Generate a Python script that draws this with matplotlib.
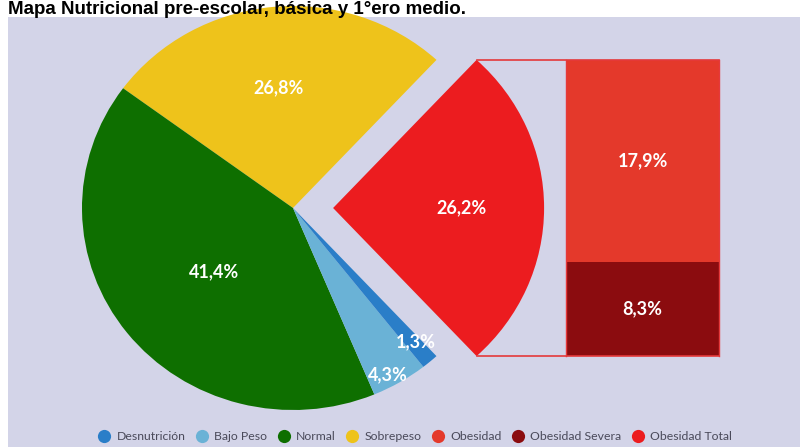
import numpy as np
import matplotlib.pyplot as plt
from matplotlib.lines import Line2D

# data
pie_labels = ["Obesidad Total", "Sobrepeso", "Normal", "Bajo Peso", "Desnutrición"]
pie_values = [26.2, 26.8, 41.4, 4.3, 1.3]
pie_colors = ["#ec1c1f", "#eec31b", "#0e6f00", "#6ab2d6", "#2a7ec8"]
pie_text = ["26,2%", "26,8%", "41,4%", "4,3%", "1,3%"]

bar_labels = ["Obesidad Severa", "Obesidad"]
bar_values = [8.3, 17.9]
bar_colors = ["#8b0c0f", "#e4392b"]
bar_text = ["8,3%", "17,9%"]

legend_labels = ["Desnutrición", "Bajo Peso", "Normal", "Sobrepeso",
                 "Obesidad", "Obesidad Severa", "Obesidad Total"]
legend_colors = ["#2a7ec8", "#6ab2d6", "#0e6f00", "#eec31b",
                 "#e4392b", "#8b0c0f", "#ec1c1f"]

W, H = 800, 447
top = 17  # panel top in px
fig = plt.figure(figsize=(W / 100, H / 100), dpi=100)
fig.patch.set_facecolor("white")

bg = "#d3d4e8"
ax = fig.add_axes([8 / W, 0, (W - 8) / W, (H - top) / H])

total = sum(pie_values)
half = pie_values[0] / total * 180
explode = [0.19, 0, 0, 0, 0]
wedges, _ = ax.pie(pie_values, colors=pie_colors, startangle=-half,
                   counterclock=True, explode=explode, radius=1,
                   wedgeprops=dict(linewidth=0), frame=True)

# panel coordinates: pie centre at pixel (293, 208)
rx, ry = 211, 202
ax.set_facecolor(bg)
ax.set_frame_on(True)
ax.set_aspect("auto")
ax.set_xlim(-285 / rx, (W - 8 - 285) / rx)
ax.set_ylim(-(H - 208) / ry, (208 - top) / ry)
for s in ax.spines.values():
    s.set_visible(False)
ax.set_xticks([])
ax.set_yticks([])

# labels on the pie
label_pos = [(0.80, 0.0), (-0.07, 0.595), (-0.375, -0.315), (0.45, -0.825), (0.58, -0.66)]
for (x, y), t in zip(label_pos, pie_text):
    ax.text(x, y, t, color="white", fontsize=13, ha="center", va="center",
            family="Lato", fontweight="bold")

# stacked bar for the obesity breakdown
sh = np.sin(np.radians(half))
ch = np.cos(np.radians(half))
scale = 2 * sh / pie_values[0]
bx0, bx1 = (566 - 293) / rx, (719 - 293) / rx
bottom = -sh
for v, c, t in zip(bar_values, bar_colors, bar_text):
    ax.bar((bx0 + bx1) / 2, v * scale, width=bx1 - bx0, bottom=bottom,
           color=c, linewidth=0)
    ax.text((bx0 + bx1) / 2, bottom + v * scale / 2, t, color="white",
            fontsize=13, ha="center", va="center", family="Lato", fontweight="bold")
    bottom += v * scale

# connector lines
cx = explode[0] + ch
ax.plot([cx, bx1], [sh, sh], color="#e5393b", lw=1.2)
ax.plot([cx, bx1], [-sh, -sh], color="#e5393b", lw=1.2)
ax.plot([bx0, bx0], [-sh, sh], color="#e5393b", lw=1.0)
ax.plot([bx1, bx1], [-sh, sh], color="#e5393b", lw=1.0)

# legend
handles = [Line2D([], [], marker="o", ls="", markersize=9.5, markerfacecolor=c,
                  markeredgewidth=0) for c in legend_colors]
leg = ax.legend(handles, legend_labels, loc="lower center", ncol=7,
                bbox_to_anchor=(0.513, -0.015), frameon=False,
                handletextpad=0.4, columnspacing=0.75, handlelength=1.2,
                prop=dict(family="Lato", size=8.8))
for t in leg.get_texts():
    t.set_color("#4a4a5a")

fig.text(8 / W, 1 - 1 / H, "Mapa Nutricional pre-escolar, básica y 1°ero medio.",
         fontsize=13.5, fontweight="bold", family="Liberation Sans",
         ha="left", va="top", color="black")

fig.savefig("out.png", dpi=100, facecolor="white")
